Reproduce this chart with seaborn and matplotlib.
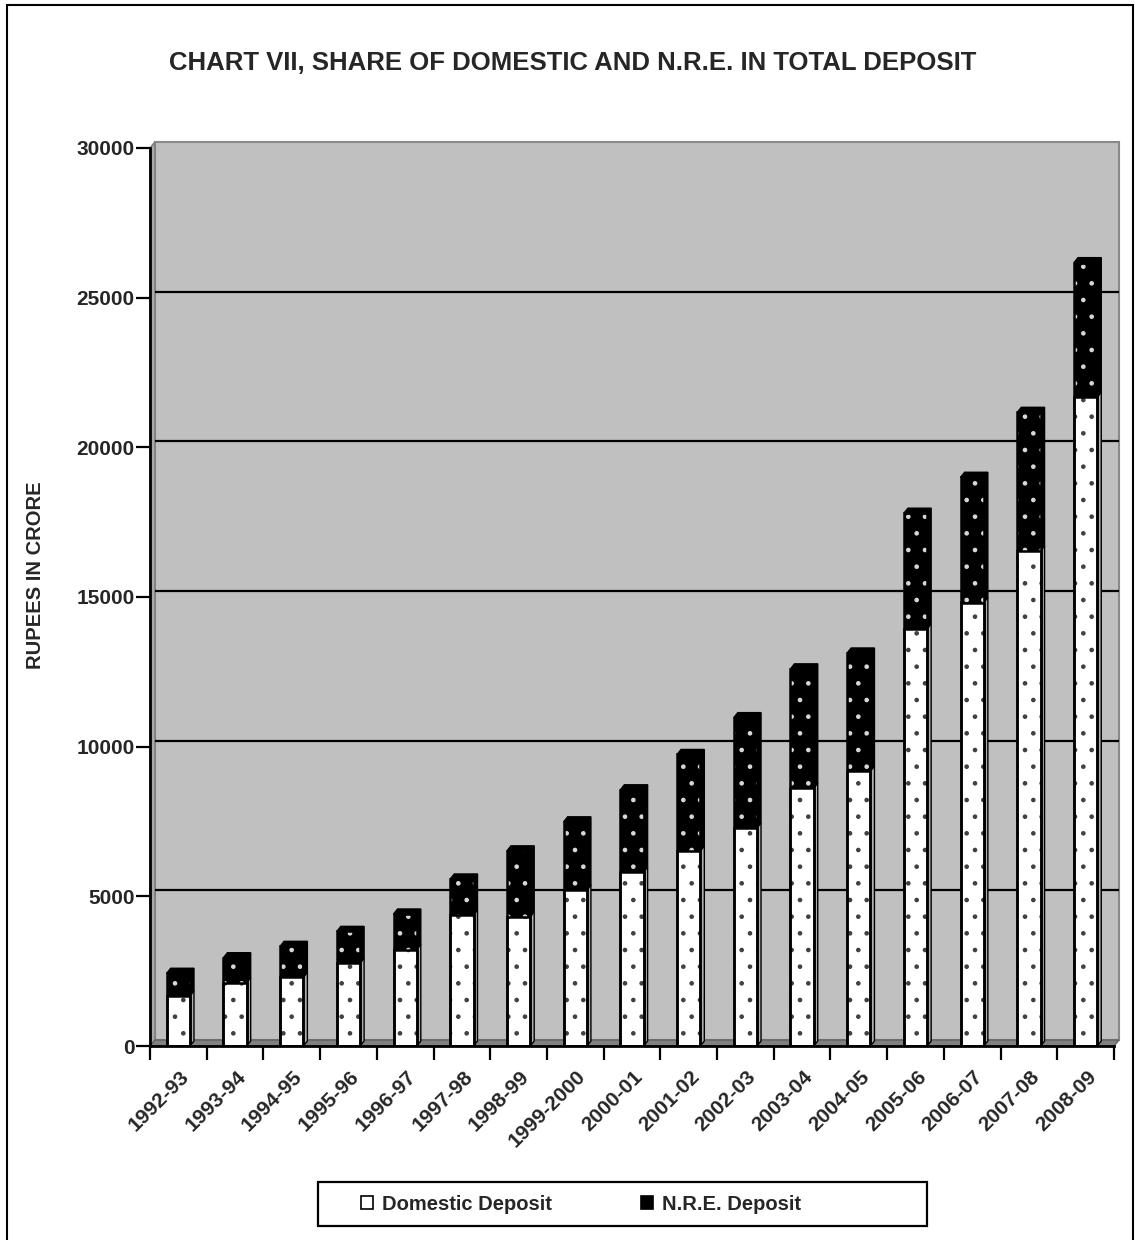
import numpy as np
import matplotlib
matplotlib.use("Agg")
import matplotlib.pyplot as plt
import matplotlib.transforms as mtransforms
import seaborn as sns
from matplotlib.patches import Polygon, Rectangle, Patch

# Deposits (Rs. crore) by year
years = ["1992-93", "1993-94", "1994-95", "1995-96", "1996-97", "1997-98",
         "1998-99", "1999-2000", "2000-01", "2001-02", "2002-03", "2003-04",
         "2004-05", "2005-06", "2006-07", "2007-08", "2008-09"]
domestic = [1670, 2110, 2290, 2760, 3220, 4370, 4310, 5200, 5810, 6510,
            7280, 8610, 9180, 13930, 14810, 16530, 21670]
nre = [760, 840, 1040, 1070, 1190, 1210, 2210, 2290, 2750, 3230,
       3690, 3990, 3950, 3870, 4190, 4640, 4500]
y_ticks = [0, 5000, 10000, 15000, 20000, 25000, 30000]

total = [d + n for d, n in zip(domestic, nre)]

sns.set_theme(style="white")
plt.rcParams["font.family"] = ["Liberation Sans", "DejaVu Sans"]
plt.rcParams["font.weight"] = "bold"
plt.rcParams["hatch.linewidth"] = 0.9

W, H = 1135, 1240
fig = plt.figure(figsize=(W / 100, H / 100), dpi=100)
fig.patch.set_facecolor("white")

# front plane of the plot area in pixels
L, R, B, T = 150, 1114, 1046, 148
ax = fig.add_axes([L / W, 1 - B / H, (R - L) / W, (B - T) / H])
ax.patch.set_visible(False)

n = len(years)
xmin, xmax = -0.5, n - 0.5
ymax = y_ticks[-1]

# pixel -> data conversion for the pseudo-3D depth
px_x = (xmax - xmin) / (R - L)
px_y = ymax / (B - T)
wdx, wdy = 5 * px_x, 6 * px_y      # wall depth
bdx, bdy = 4 * px_x, 5 * px_y      # bar depth
bw = 0.41

# back wall, side wall and floor
ax.add_patch(Rectangle((xmin + wdx, wdy), xmax - xmin, ymax, facecolor="#C0C0C0",
                       edgecolor="#8a8a8a", lw=1.5, zorder=0, clip_on=False))
ax.add_patch(Polygon([(xmin, 0), (xmin + wdx, wdy), (xmin + wdx, ymax + wdy), (xmin, ymax)],
                     closed=True, facecolor="#A8A8A8", edgecolor="#808080", lw=1.2,
                     zorder=0.5, clip_on=False))
ax.add_patch(Polygon([(xmin, 0), (xmax, 0), (xmax + wdx, wdy), (xmin + wdx, wdy)],
                     closed=True, facecolor="#808080", edgecolor="#606060", lw=1.0,
                     zorder=0.5, clip_on=False))

# gridlines on the back wall
for v in y_ticks[1:-1]:
    ax.plot([xmin + wdx, xmax + wdx], [v + wdy, v + wdy], color="black", lw=1.6,
            zorder=1, clip_on=False, solid_capstyle="butt")

# side and top faces of every stacked segment
for i in range(n):
    x0, x1 = i - bw / 2, i + bw / 2
    for b, t, fc in [(0, domestic[i], "#b0b0b0"), (domestic[i], total[i], "black")]:
        pts = [(x0, t), (x0 + bdx, t + bdy), (x1 + bdx, t + bdy),
               (x1 + bdx, b + bdy), (x1, b), (x1, t)]
        ax.add_patch(Polygon(pts, closed=True, facecolor=fc, edgecolor="black",
                             lw=1.0, zorder=2))

# front faces: full stack in black with light dots, domestic part white with dark dots
sns.barplot(x=years, y=total, color="black", edgecolor="#d8d8d8", linewidth=0,
            hatch=".", width=bw, saturation=1, errorbar=None, ax=ax, zorder=3)
sns.barplot(x=years, y=domestic, color="white", edgecolor="#404040", linewidth=0,
            hatch=".", width=bw, saturation=1, errorbar=None, ax=ax, zorder=3)

for p in list(ax.patches):
    if isinstance(p, Rectangle) and p.get_zorder() == 3:
        ax.add_patch(Rectangle(p.get_xy(), p.get_width(), p.get_height(), fill=False,
                               edgecolor="black", lw=1.8, zorder=4))

ax.set_xlim(xmin, xmax)
ax.set_ylim(0, ymax)

# axes lines and ticks
for s in ["top", "right"]:
    ax.spines[s].set_visible(False)
for s in ["left", "bottom"]:
    ax.spines[s].set_visible(True)
    ax.spines[s].set_color("black")
    ax.spines[s].set_linewidth(2.0)
    ax.spines[s].set_zorder(5)

ax.set_yticks(y_ticks)
ax.set_yticklabels([str(v) for v in y_ticks], fontsize=15, fontweight="bold")
ax.tick_params(axis="y", direction="out", length=10, width=1.6, color="black", pad=1, left=True)

ax.set_xticks(range(n))
ax.set_xticklabels(years, rotation=45, ha="right", va="top", rotation_mode="anchor",
                   fontsize=15, fontweight="bold")
ax.tick_params(axis="x", which="major", length=0, pad=15, bottom=True)
shift = mtransforms.ScaledTranslation(1 / 100, 0, fig.dpi_scale_trans)
for lab in ax.get_xticklabels():
    lab.set_transform(lab.get_transform() + shift)
ax.set_xticks(np.arange(xmin, xmax + 0.01, 1), minor=True)
ax.tick_params(axis="x", which="minor", direction="out", length=10, width=1.6,
               color="black", bottom=True)
ax.set_xlabel("")
ax.set_ylabel("")
ax.grid(False)

# titles
fig.text(573 / W, 1 - 63 / H, "CHART VII, SHARE OF DOMESTIC AND N.R.E. IN TOTAL DEPOSIT",
         ha="center", va="center", fontsize=18.5, fontweight="bold")
fig.text(36 / W, 1 - 575 / H, "RUPEES IN CRORE", rotation=90, ha="center", va="center",
         fontsize=14.5, fontweight="bold")

# legend
handles = [Patch(facecolor="white", edgecolor="black", lw=1.2),
           Patch(facecolor="black", edgecolor="black", lw=1.2)]
fig.legend(handles, ["Domestic Deposit", "N.R.E. Deposit"], loc="center left",
           bbox_to_anchor=(361 / W, 1 - 1204 / H), ncol=2, frameon=False,
           handlelength=0.6, handleheight=0.6, handletextpad=0.45, columnspacing=4.4,
           borderpad=0, borderaxespad=0, prop={"size": 14.5, "weight": "bold"})
fig.add_artist(Rectangle((318 / W, 1 - 1226 / H), 609 / W, 44 / H, fill=False,
                         edgecolor="black", lw=1.6, transform=fig.transFigure))

# outer frame
fig.add_artist(Rectangle((7 / W, -0.01), (1133 - 7) / W, (H - 5) / H + 0.01, fill=False,
                         edgecolor="black", lw=1.5, transform=fig.transFigure))

fig.savefig("out.png", dpi=100)
